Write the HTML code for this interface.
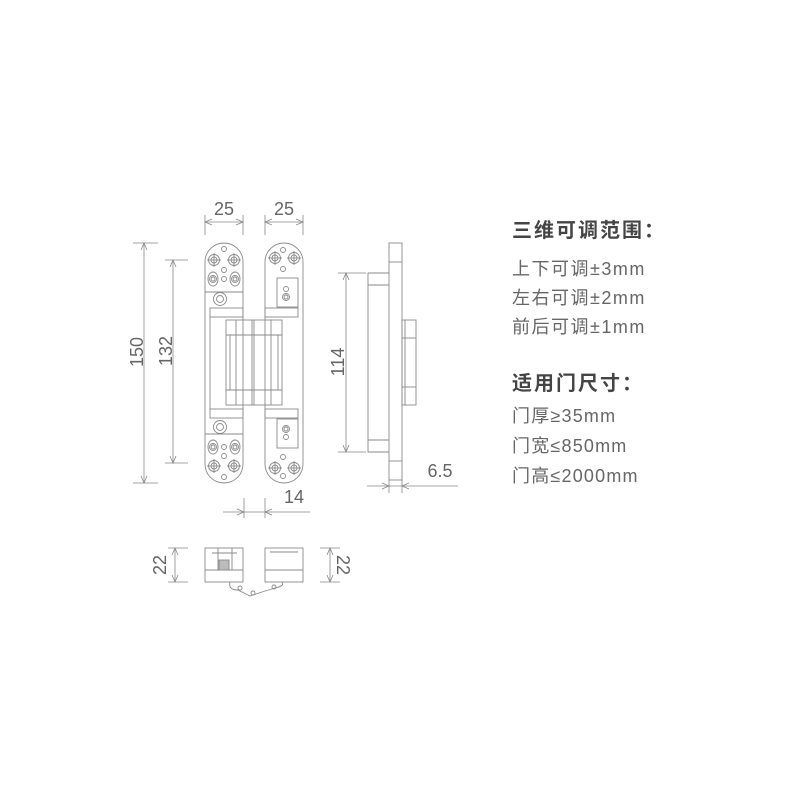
<!DOCTYPE html>
<html><head><meta charset="utf-8"><style>
body{margin:0;background:#fff;width:800px;height:800px;overflow:hidden;}
svg{position:absolute;left:0;top:0;}
.t{font-family:"Liberation Sans","Noto Sans CJK SC",sans-serif;}
</style></head><body>
<svg width="800" height="800" viewBox="0 0 800 800" xmlns="http://www.w3.org/2000/svg">
<defs>
<g id="cs"><circle r="5.5" fill="none"/><circle r="3" fill="none"/><line x1="-7" y1="0" x2="7" y2="0"/><line x1="0" y1="-7" x2="0" y2="7"/></g>
<g id="ov"><ellipse rx="5" ry="7" fill="none"/><circle r="3.5" fill="none"/><circle r="2" fill="none"/></g>
<g id="top" stroke="#8a8a8a" stroke-width="0.9" fill="none">
<use href="#cs" x="214" y="260"/><use href="#cs" x="234" y="260"/>
<circle cx="224" cy="249" r="2.5"/><circle cx="224" cy="270" r="2.5"/>
<use href="#ov" x="213" y="279"/><use href="#ov" x="235" y="279"/>
<circle cx="224" cy="279" r="2.5"/>
<circle cx="220" cy="299" r="6.5"/><circle cx="220" cy="299" r="3.5"/>
<line x1="205" y1="292" x2="243" y2="292"/>
<rect x="210" y="308" width="33" height="9"/>
<use href="#cs" x="275" y="258"/><use href="#cs" x="294" y="258"/>
<circle cx="283" cy="250" r="2.5"/><circle cx="283" cy="269" r="2.5"/>
<rect x="277" y="278" width="21" height="29"/>
<circle cx="286" cy="289" r="2.5"/><circle cx="286" cy="297" r="3.5"/><circle cx="286" cy="297" r="2"/>
<rect x="265" y="308" width="33" height="9"/>
</g>
</defs>
<g stroke="#8a8a8a" stroke-width="0.9" fill="none">
<path d="M205,262 A19,19 0 0 1 243,262 V464 A19,19 0 0 1 205,464 Z"/>
<path d="M265,262 A19,19 0 0 1 303,262 V464 A19,19 0 0 1 265,464 Z"/>
<line x1="210" y1="317" x2="210" y2="409"/>
<rect x="226" y="320" width="56" height="85"/>
<line x1="226" y1="335" x2="282" y2="335"/><line x1="226" y1="390" x2="282" y2="390"/>
<line x1="254" y1="320" x2="254" y2="405"/><line x1="252" y1="320" x2="252" y2="405"/>
<line x1="236" y1="320" x2="236" y2="405"/><line x1="271" y1="320" x2="271" y2="405"/>
<line x1="230" y1="335" x2="230" y2="390"/><line x1="278" y1="335" x2="278" y2="390"/>
</g>
<use href="#top"/>
<use href="#top" transform="translate(0,726) scale(1,-1)"/>
<g stroke="#8a8a8a" stroke-width="0.9" fill="none">
<rect x="389" y="243" width="13" height="237"/>
<line x1="389" y1="262" x2="402" y2="262"/><line x1="389" y1="461" x2="402" y2="461"/>
<path d="M389,273 H368 V452 H389"/>
<path d="M368,285 H389 M368,440 H389"/>
<rect x="402" y="320" width="14" height="85"/>
<line x1="402" y1="338" x2="416" y2="338"/><line x1="402" y1="387" x2="416" y2="387"/>
<line x1="405" y1="320" x2="405" y2="405"/>
<rect x="205" y="548" width="38" height="34"/>
<line x1="205" y1="570" x2="243" y2="570"/><line x1="218" y1="548" x2="218" y2="570"/><line x1="232" y1="548" x2="232" y2="570"/>
<line x1="212" y1="553" x2="237" y2="553"/>
<rect x="219" y="560" width="10" height="10" fill="#bbb"/>
<rect x="265" y="548" width="38" height="34"/>
<line x1="265" y1="570" x2="303" y2="570"/><line x1="270" y1="552" x2="298" y2="552"/>
<path d="M230,582 Q228,590 238,590 L250,596 L262,592 L275,588 Q285,586 282,582"/>
<circle cx="240" cy="588" r="2"/><circle cx="253" cy="593" r="2"/><circle cx="274" cy="587" r="2"/>
</g>
<g stroke="#888" stroke-width="0.8" fill="none">
<line x1="205" y1="215" x2="205" y2="235"/><line x1="243" y1="215" x2="243" y2="235"/>
<line x1="205" y1="222" x2="243" y2="222"/><path d="M212,219 L205,222 L212,225 M236,219 L243,222 L236,225"/>
<line x1="265" y1="215" x2="265" y2="235"/><line x1="303" y1="215" x2="303" y2="235"/>
<line x1="265" y1="222" x2="303" y2="222"/><path d="M272,219 L265,222 L272,225 M296,219 L303,222 L296,225"/>
<line x1="133" y1="243" x2="158" y2="243"/><line x1="133" y1="483" x2="158" y2="483"/>
<line x1="144" y1="243" x2="144" y2="483"/><path d="M141,250 L144,243 L147,250 M141,476 L144,483 L147,476"/>
<line x1="165" y1="260" x2="188" y2="260"/><line x1="165" y1="463" x2="188" y2="463"/>
<line x1="173" y1="260" x2="173" y2="463"/><path d="M170,267 L173,260 L176,267 M170,456 L173,463 L176,456"/>
<line x1="338" y1="273" x2="366" y2="273"/><line x1="338" y1="452" x2="366" y2="452"/>
<line x1="346" y1="273" x2="346" y2="452"/><path d="M343,280 L346,273 L349,280 M343,445 L346,452 L349,445"/>
<line x1="367" y1="486" x2="458" y2="486"/><line x1="389" y1="480" x2="389" y2="493"/><line x1="402" y1="480" x2="402" y2="493"/>
<path d="M382,483 L389,486 L382,489 M409,483 L402,486 L409,489"/>
<line x1="223" y1="512" x2="310" y2="512"/><line x1="244" y1="498" x2="244" y2="518"/><line x1="265" y1="498" x2="265" y2="518"/>
<path d="M237,509 L244,512 L237,515 M272,509 L265,512 L272,515"/>
<line x1="168" y1="548" x2="188" y2="548"/><line x1="168" y1="582" x2="188" y2="582"/>
<line x1="175" y1="548" x2="175" y2="582"/><path d="M172,555 L175,548 L178,555 M172,575 L175,582 L178,575"/>
<line x1="320" y1="548" x2="340" y2="548"/><line x1="320" y1="582" x2="340" y2="582"/>
<line x1="330" y1="548" x2="330" y2="582"/><path d="M327,555 L330,548 L333,555 M327,575 L330,582 L333,575"/>
</g>
<g fill="#666" font-size="18" font-family="Liberation Sans, sans-serif">
<text x="224" y="215" text-anchor="middle">25</text>
<text x="284" y="215" text-anchor="middle">25</text>
<text transform="translate(143,352) rotate(-90)" text-anchor="middle">150</text>
<text transform="translate(172,351) rotate(-90)" text-anchor="middle">132</text>
<text transform="translate(344,362) rotate(-90)" text-anchor="middle">114</text>
<text x="440" y="477" text-anchor="middle">6.5</text>
<text x="294" y="503" text-anchor="middle">14</text>
<text transform="translate(166,565) rotate(-90)" text-anchor="middle">22</text>
<text transform="translate(337,565) rotate(90)" text-anchor="middle">22</text>
</g>
<g class="t" font-family="Liberation Sans, Noto Sans CJK SC, sans-serif">
<text x="512" y="237" font-size="20" font-weight="bold" fill="#444" letter-spacing="2">三维可调范围：</text>
<text x="512" y="275" font-size="18" fill="#666" letter-spacing="1.5">上下可调±3mm</text>
<text x="512" y="304" font-size="18" fill="#666" letter-spacing="1.5">左右可调±2mm</text>
<text x="512" y="333" font-size="18" fill="#666" letter-spacing="1.5">前后可调±1mm</text>
<text x="512" y="390" font-size="20" font-weight="bold" fill="#444" letter-spacing="2">适用门尺寸：</text>
<text x="512" y="422" font-size="18" fill="#666" letter-spacing="1.2">门厚≥35mm</text>
<text x="512" y="452" font-size="18" fill="#666" letter-spacing="1.2">门宽≤850mm</text>
<text x="512" y="482" font-size="18" fill="#666" letter-spacing="1.2">门高≤2000mm</text>
</g>
</svg>
</body></html>
